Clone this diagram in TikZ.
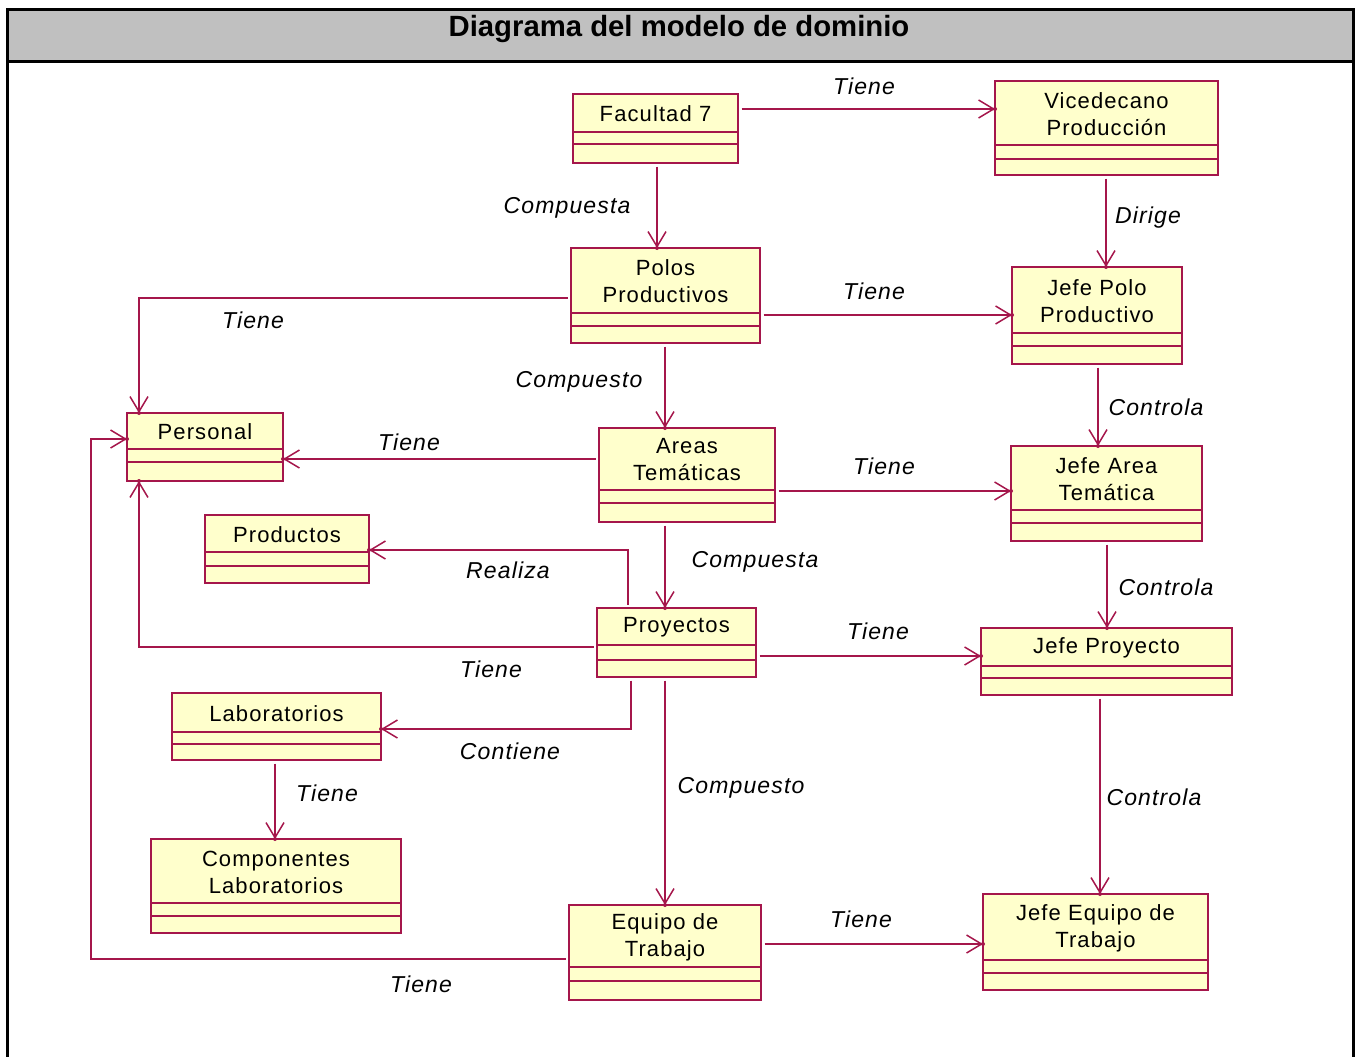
\documentclass[tikz,border=0pt]{standalone}
\usepackage{fontspec}
\setmainfont{Liberation Sans}
\newfontfamily\clsfont[LetterSpace=5]{Liberation Sans}
\newfontfamily\lblfont[LetterSpace=5]{Liberation Sans Italic}
\usetikzlibrary{arrows.meta,decorations.markings}

\definecolor{umlline}{RGB}{165,22,75}
\definecolor{umlfill}{RGB}{255,255,204}
\definecolor{hdrgray}{RGB}{192,192,192}

\tikzset{
  classbox/.style={draw=umlline, fill=umlfill, line width=1.6pt, inner sep=0pt, outer sep=0pt},
  classname/.style={align=center, inner sep=0pt, font=\clsfont\fontsize{22}{27}\selectfont},
  compline/.style={draw=umlline, line width=1.6pt},
  assoc/.style={draw=umlline, line width=1.5pt, shorten <=3.5pt,
    -{Straight Barb[length=15pt,width=18pt]},
    postaction={decorate},
    decoration={markings, mark=at position 1 with {\fill[umlline] circle (2pt);}}},
  lbl/.style={inner sep=0pt, font=\lblfont\fontsize{23}{27}\selectfont}
}

% \umlclass{name}{left}{top}{right}{bottom}{sep1}{sep2}{text}
\newcommand\umlclass[8]{%
  \node[classbox, minimum width={(#4-#2)*1pt}, minimum height={(#5-#3)*1pt}]
    (#1) at ({(#2+#4)/2},{(#3+#5)/2}) {};
  \draw[compline] (#1.west |- 0,#6) -- (#1.east |- 0,#6);
  \draw[compline] (#1.west |- 0,#7) -- (#1.east |- 0,#7);
  \node[classname] (#1-name) at ({(#2+#4)/2},{(#3+#6)/2+1}) {#8};
}

\begin{document}
\begin{tikzpicture}[x=1pt, y=-1pt]
\useasboundingbox (0,0) rectangle (1361,1057);

% frame and title bar
\fill[hdrgray] (7,10) rectangle (1353,62);
\draw[line width=3pt] (7,1062) -- (7,10) -- (1353,10) -- (1353,1062);
\draw[line width=3pt] (7,62) -- (1353,62);
\node[font=\bfseries\fontsize{29.3}{34}\selectfont, inner sep=0pt] (title) at (679,29) {Diagrama del modelo de dominio};

% classes
\umlclass{fac}{573}{94}{738}{163}{132}{144}{Facultad 7}
\umlclass{vice}{995}{81}{1218}{175}{145}{159}{Vicedecano\\Producción}
\umlclass{pol}{571}{248}{760}{343}{313}{326}{Polos\\Productivos}
\umlclass{jpp}{1012}{267}{1182}{364}{333}{346}{Jefe Polo\\Productivo}
\umlclass{per}{127}{413}{283}{481}{449}{462}{Personal}
\umlclass{area}{599}{428}{775}{522}{490}{503}{Areas\\Temáticas}
\umlclass{jat}{1011}{446}{1202}{541}{510}{523}{Jefe Area\\Temática}
\umlclass{prod}{205}{515}{369}{583}{552}{566}{Productos}
\umlclass{proy}{597}{608}{756}{677}{645}{660}{Proyectos}
\umlclass{jp}{981}{628}{1232}{695}{666}{678}{Jefe Proyecto}
\umlclass{lab}{172}{693}{381}{760}{732}{744}{Laboratorios}
\umlclass{comp}{151}{839}{401}{933}{903}{916}{Componentes\\Laboratorios}
\umlclass{eq}{569}{905}{761}{1000}{967}{981}{Equipo de\\Trabajo}
\umlclass{jeq}{983}{894}{1208}{990}{960}{973}{Jefe Equipo de\\Trabajo}

% associations
\draw[assoc] (fac.east |- 0,109) -- (vice.west |- 0,109);
\draw[assoc] (fac.south -| 657,0) -- (pol.north -| 657,0);
\draw[assoc] (vice.south -| 1106,0) -- (jpp.north -| 1106,0);
\draw[assoc] (pol.east |- 0,315) -- (jpp.west |- 0,315);
\draw[assoc] (pol.west |- 0,298) -| (per.north -| 139,0);
\draw[assoc] (pol.south -| 665,0) -- (area.north -| 665,0);
\draw[assoc] (jpp.south -| 1098,0) -- (jat.north -| 1098,0);
\draw[assoc] (area.west |- 0,459) -- (per.east |- 0,459);
\draw[assoc] (area.east |- 0,491) -- (jat.west |- 0,491);
\draw[assoc] (area.south -| 665,0) -- (proy.north -| 665,0);
\draw[assoc] (jat.south -| 1107,0) -- (jp.north -| 1107,0);
\draw[assoc] (proy.north -| 628,0) |- (prod.east |- 0,550);
\draw[assoc] (proy.west |- 0,647) -| (per.south -| 139,0);
\draw[assoc] (proy.east |- 0,656) -- (jp.west |- 0,656);
\draw[assoc] (proy.south -| 631,0) |- (lab.east |- 0,729);
\draw[assoc] (proy.south -| 665,0) -- (eq.north -| 665,0);
\draw[assoc] (jp.south -| 1100,0) -- (jeq.north -| 1100,0);
\draw[assoc] (lab.south -| 275,0) -- (comp.north -| 275,0);
\coordinate (eqbend) at (91,439);
\draw[assoc] (eq.west |- 0,959) -| (eqbend) -- (per.west |- eqbend);
\draw[assoc] (eq.east |- 0,944) -- (jeq.west |- 0,944);

% association labels
\node[lbl] (t1) at (864,86) {Tiene};
\node[lbl] (t2) at (567,208) {Compuesta};
\node[lbl] (t3) at (1148,218) {Dirige};
\node[lbl] (t4) at (874,291) {Tiene};
\node[lbl] (t5) at (253,320) {Tiene};
\node[lbl] (t6) at (579,382) {Compuesto};
\node[lbl] (t7) at (1156,407) {Controla};
\node[lbl] (t8) at (409,442) {Tiene};
\node[lbl] (t9) at (884,466) {Tiene};
\node[lbl] (t10) at (755,562) {Compuesta};
\node[lbl] (t11) at (1166,587) {Controla};
\node[lbl] (t12) at (508,570) {Realiza};
\node[lbl] (t13) at (491,669) {Tiene};
\node[lbl] (t14) at (878,631) {Tiene};
\node[lbl] (t15) at (510,751) {Contiene};
\node[lbl] (t16) at (741,788) {Compuesto};
\node[lbl] (t17) at (1154,797) {Controla};
\node[lbl] (t18) at (327,793) {Tiene};
\node[lbl] (t19) at (421,984) {Tiene};
\node[lbl] (t20) at (861,919) {Tiene};
\end{tikzpicture}
\end{document}
